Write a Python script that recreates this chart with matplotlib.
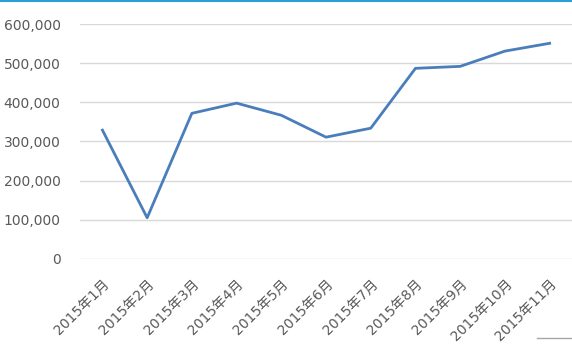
import matplotlib.pyplot as plt
from matplotlib.ticker import FuncFormatter

plt.rcParams['font.family'] = ['DejaVu Sans', 'Noto Sans CJK SC']

months = ["2015年1月", "2015年2月", "2015年3月", "2015年4月", "2015年5月", "2015年6月",
          "2015年7月", "2015年8月", "2015年9月", "2015年10月", "2015年11月"]
values = [329000, 105000, 372000, 398000, 367000, 311000,
          334000, 487000, 492000, 531000, 551000]

fig = plt.figure(figsize=(5.72, 3.6), dpi=100)
ax = fig.add_axes([0.14, 0.281, 0.86, 0.652])

x = range(len(months))
ax.plot(x, values, color="#4a7ebb", linewidth=2.0, solid_joinstyle="round")

ax.set_xlim(-0.5, len(months) - 0.5)
ax.set_ylim(0, 600000)
ax.set_yticks(range(0, 600001, 100000))
ax.yaxis.set_major_formatter(FuncFormatter(lambda v, p: f"{int(v):,}"))
ax.grid(axis="y", color="#d9d9d9", linewidth=1.0)
ax.set_axisbelow(True)

ax.set_xticks(list(x))
ax.set_xticklabels(months, rotation=45, ha="right", rotation_mode="anchor")
ax.tick_params(axis="both", length=0, labelsize=10, labelcolor="#595959")
ax.tick_params(axis="y", pad=14)
ax.tick_params(axis="x", pad=13)
for s in ax.spines.values():
    s.set_visible(False)

# decorative lines at frame edges
fig.add_artist(plt.Line2D([0, 1], [0.998, 0.998], color="#2a9fd6", linewidth=1.5))
fig.add_artist(plt.Line2D([537 / 572, 1], [1 - 338 / 360, 1 - 338 / 360], color="#a6a6a6", linewidth=1.0))

fig.savefig("out.png", dpi=100)
